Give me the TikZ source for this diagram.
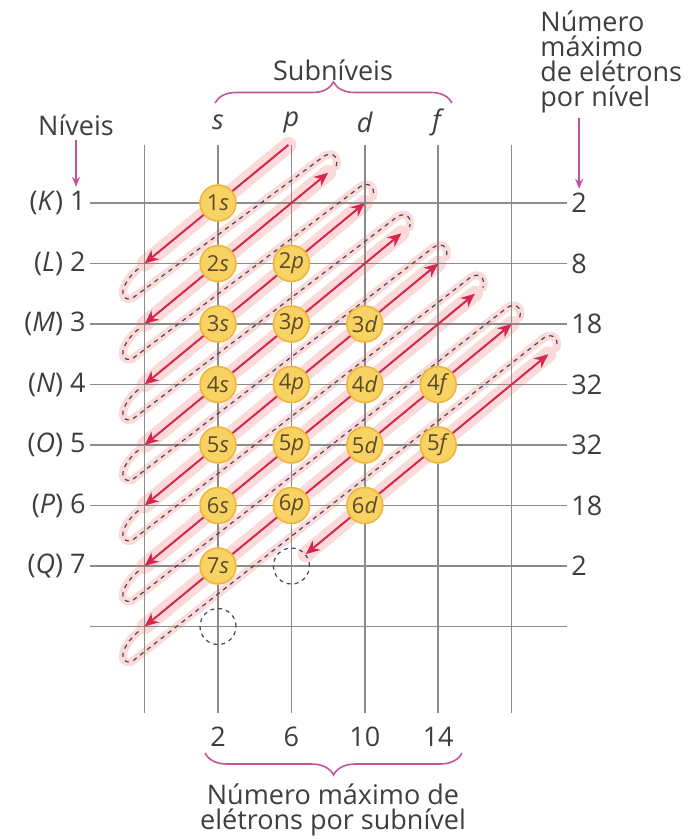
\documentclass[tikz,border=0pt]{standalone}
\usepackage{fontspec}
\setmainfont{Open Sans}
\usetikzlibrary{arrows.meta,decorations.pathreplacing}

\definecolor{gridgray}{RGB}{140,140,140}
\definecolor{txtgray}{RGB}{62,62,62}
\definecolor{elred}{RGB}{212,38,78}
\definecolor{glowpink}{RGB}{252,218,218}
\definecolor{orbfill}{RGB}{248,210,98}
\definecolor{orbline}{RGB}{240,182,60}
\definecolor{orbtext}{RGB}{92,74,45}
\definecolor{loopgray}{RGB}{72,72,84}
\definecolor{bracepink}{RGB}{196,84,152}

\pgfdeclarelayer{glow}
\pgfdeclarelayer{grid}
\pgfsetlayers{glow,grid,main}

\tikzset{
  lbl/.style={text=txtgray, font=\fontsize{13.5}{13}\selectfont, inner sep=2pt},
  gridline/.style={draw=gridgray, line width=0.75pt},
  orb/.style={circle, minimum size=18pt, inner sep=0pt, fill=orbfill, draw=orbline,
    line width=0.8pt, text=orbtext, font=\fontsize{11}{12}\selectfont},
  noorb/.style={circle, minimum size=18pt, inner sep=0pt, draw=loopgray,
    line width=0.6pt, dash pattern=on 2pt off 2pt},
  elarrow/.style={draw=elred, line width=1pt, >={Stealth[length=7pt,width=6pt]}},
  glowline/.style={draw=glowpink, line width=8pt, line cap=round},
  glowloop/.style={draw=glowpink, line width=4pt, line cap=round},
  returnloop/.style={draw=loopgray, line width=0.6pt, dash pattern=on 2.2pt off 2.2pt},
  brc/.style={draw=bracepink, line width=0.8pt, decorate, decoration={brace, amplitude=#1}},
  pointer/.style={draw=bracepink, line width=0.8pt, -{Stealth[length=5pt,width=4pt]}},
}

% dashed way back from the foot of diagonal #2 to the head of diagonal #2+1
\newcommand\retloop[2]{%
  \pgfmathsetmacro\hd{47.57*#2+199.4}
  \begin{scope}[shift={(bot#2)},x={(0.3859pt,0.318pt)},y={(0.318pt,-0.3859pt)}]
    \draw[#1] (-8,0) .. controls (-30,0) and (-46,12) .. (-32,19)
      -- (\hd+2,31) .. controls (\hd+16,30) and (\hd+20,40) .. (\hd+10,47);
  \end{scope}}

\begin{document}
\begin{tikzpicture}[x=0.5pt,y=-0.5pt]
\useasboundingbox (0,0) rectangle (689,839);

% grid in level/subshell units, origin at 1s
\begin{scope}[shift={(218,203)},x={(36.7pt,0pt)},y={(0pt,-30.25pt)}]
  \foreach \r/\k/\m in {0/K/2,1/L/8,2/M/18,3/N/32,4/O/32,5/P/18,6/Q/2} {
    \pgfmathtruncatemacro\n{\r+1}
    \node[lbl,anchor=east] (lv\n) at (-1.744,\r) {(\textit{\k}\/) \n};
    \node[lbl,anchor=west] (mx\n) at (4.755,\r) {\m};
  }
  \coordinate (lv8) at (-1.744,7);
  \coordinate (mx8) at (4.755,7);
  \foreach \c/\sub/\num in {0/s/2,1/p/6,2/d/10,3/f/14} {
    \node[lbl] (sub\sub) at (\c,-1.33) {\textit{\sub}};
    \node[lbl] (cap\sub) at (\c,8.83) {\num};
  }
  \foreach \s in {0,...,7} {
    \coordinate (top\s) at ({(\s+2)/2},{(\s-2)/2});
    \coordinate (bot\s) at (-1,\s+1);
  }
  \coordinate (top0) at (0.96,-0.96);
  \node[noorb] (e7p) at (1,6) {};
  \node[noorb] (e8s) at (0,7) {};

  \begin{pgfonlayer}{grid}
    \foreach \c in {-1,...,4}
      \draw[gridline] (\c,-0.96) -- (\c,8.43);
    \foreach \n in {1,...,8}
      \draw[gridline] (lv\n.east) -- (mx\n.west);
  \end{pgfonlayer}
\end{scope}

% pink halo under the diagonals
\begin{pgfonlayer}{glow}
  \foreach \s in {0,...,6}
    \draw[glowline] (top\s) -- (bot\s);
  \draw[glowline] (top7) -- (e7p);
  \foreach \s in {0,...,6} {\retloop{glowloop}{\s}}
\end{pgfonlayer}

\foreach \s in {0,...,6} {\retloop{returnloop}{\s}}

\draw[elarrow,->] (top0) -- (bot0);
\foreach \s in {1,...,6}
  \draw[elarrow,<->] (top\s) -- (bot\s);
\draw[elarrow,<->] (top7) -- (e7p);

% occupied subshells
\begin{scope}[shift={(218,203)},x={(36.7pt,0pt)},y={(0pt,-30.25pt)}]
  \foreach \r/\cmax in {0/0,1/1,2/2,3/3,4/3,5/2,6/0} {
    \pgfmathtruncatemacro\n{\r+1}
    \foreach \c in {0,...,\cmax}
      \node[orb] (o\n\c) at (\c,\r) {\n\textit{\ifcase\c s\or p\or d\or f\fi}};
  }
\end{scope}

% headings
\node[lbl] (subniv) at (333,70) {Subníveis};
\draw[brc=10.5pt] (215,103) -- (452,103);
\node[lbl] (niveis) at (76,125) {Níveis};
\draw[pointer] (niveis.south) -- (niveis.south |- lv1.north);
\node[lbl,anchor=north west,align=left,font=\fontsize{13.5}{12.6}\selectfont]
  (maxniv) at (536,6) {Número\\máximo\\de elétrons\\por nível};
\draw[pointer] (maxniv.south -| mx1) -- (mx1.north);
\draw[brc=11pt] (462,753) -- (205,753);
\node[lbl,align=center,font=\fontsize{13.5}{12.5}\selectfont]
  (maxsub) at (333,810) {Número máximo de\\elétrons por subnível};
\end{tikzpicture}
\end{document}
